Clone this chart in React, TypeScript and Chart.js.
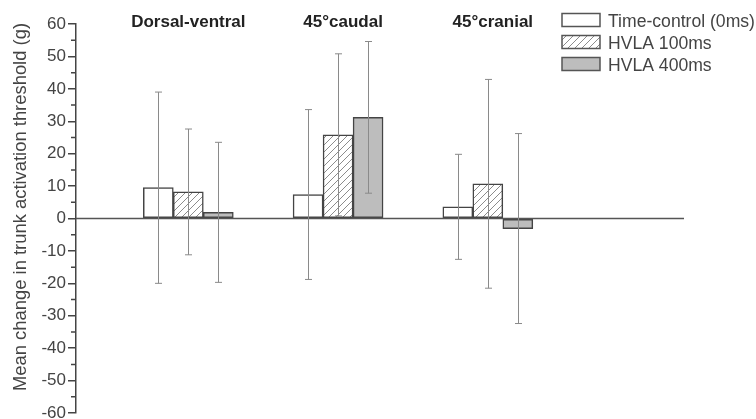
import React, { useEffect, useRef } from "react";
import { Chart, registerables } from "chart.js";

Chart.register(...registerables);

const categories = ["Dorsal-ventral", "45°caudal", "45°cranial"];
const groupPositions = [0.75, 1.75, 2.75];
const seriesLabels = ["Time-control (0ms)", "HVLA 100ms", "HVLA 400ms"];
const timeControl = [9.5, 7.4, 3.6];
const hvla100 = [8.2, 25.8, 10.7];
const hvla400 = [1.9, 31.2, -3.1];
const timeControlErr = [29.5, 26.2, 16.2];
const hvla100Err = [19.4, 25.0, 32.2];
const hvla400Err = [21.6, 23.4, 29.3];
const yMin = -60;
const yMax = 60;
const yStep = 10;
const yMinorStep = 5;
const yTitle = "Mean change in trunk activation threshold (g)";

const FONT = "'Liberation Sans', Arial, Helvetica, sans-serif";

function makeHatch(): CanvasPattern | string {
  const size = 7;
  const c = document.createElement("canvas");
  c.width = size;
  c.height = size;
  const g = c.getContext("2d");
  if (!g) return "#ffffff";
  g.fillStyle = "#ffffff";
  g.fillRect(0, 0, size, size);
  g.strokeStyle = "#8c8c8c";
  g.lineWidth = 1;
  g.beginPath();
  g.moveTo(0, size);
  g.lineTo(size, 0);
  g.moveTo(-1, 1);
  g.lineTo(1, -1);
  g.moveTo(size - 1, size + 1);
  g.lineTo(size + 1, size - 1);
  g.stroke();
  const p = g.createPattern(c, "repeat");
  return p || "#ffffff";
}

const errorSets = [timeControlErr, hvla100Err, hvla400Err];

const decorPlugin = {
  id: "decor",
  afterDatasetsDraw(chart: any) {
    const ctx: CanvasRenderingContext2D = chart.ctx;
    const yS = chart.scales.y;
    const xS = chart.scales.x;
    const area = chart.chartArea;

    // zero line
    ctx.save();
    ctx.strokeStyle = "#555555";
    ctx.lineWidth = 1.5;
    ctx.beginPath();
    ctx.moveTo(area.left, yS.getPixelForValue(0));
    ctx.lineTo(area.right, yS.getPixelForValue(0));
    ctx.stroke();
    ctx.restore();

    // error bars
    ctx.save();
    ctx.strokeStyle = "#8a8a8a";
    ctx.lineWidth = 1;
    chart.data.datasets.forEach((ds: any, di: number) => {
      const meta = chart.getDatasetMeta(di);
      meta.data.forEach((el: any, i: number) => {
        const v = ds.data[i].y;
        const e = errorSets[di][i];
        const x = Math.round(el.x) + 0.5;
        const yHi = yS.getPixelForValue(v + e);
        const yLo = yS.getPixelForValue(v - e);
        ctx.beginPath();
        ctx.moveTo(x, yHi);
        ctx.lineTo(x, yLo);
        ctx.moveTo(x - 3.5, yHi);
        ctx.lineTo(x + 3.5, yHi);
        ctx.moveTo(x - 3.5, yLo);
        ctx.lineTo(x + 3.5, yLo);
        ctx.stroke();
      });
    });
    ctx.restore();

    // minor ticks
    ctx.save();
    ctx.strokeStyle = "#444444";
    ctx.lineWidth = 1.5;
    ctx.beginPath();
    for (let v = yMin + yMinorStep; v < yMax; v += yStep) {
      const y = yS.getPixelForValue(v);
      ctx.moveTo(area.left - 5, y);
      ctx.lineTo(area.left, y);
    }
    ctx.stroke();
    ctx.restore();

    // group titles
    ctx.save();
    ctx.fillStyle = "#222222";
    ctx.font = `bold 17px ${FONT}`;
    ctx.textAlign = "center";
    ctx.textBaseline = "alphabetic";
    categories.forEach((c, i) => {
      ctx.fillText(c, xS.getPixelForValue(groupPositions[i]) + (i === 0 ? 0 : 5), 27);
    });
    ctx.restore();

    // legend
    ctx.save();
    chart.data.datasets.forEach((ds: any, di: number) => {
      const base = 27 + di * 22;
      const bx = 562;
      const by = base - 13.5;
      ctx.fillStyle = ds.backgroundColor;
      ctx.fillRect(bx, by, 38, 13);
      ctx.strokeStyle = "#555555";
      ctx.lineWidth = 1.5;
      ctx.strokeRect(bx, by, 38, 13);
      ctx.fillStyle = "#444444";
      ctx.font = `17.6px ${FONT}`;
      ctx.textAlign = "left";
      ctx.textBaseline = "alphabetic";
      ctx.fillText(ds.label, 608, base);
    });
    ctx.restore();

    // y title
    ctx.save();
    ctx.translate(26, 207);
    ctx.rotate(-Math.PI / 2);
    ctx.fillStyle = "#444444";
    ctx.font = `18.4px ${FONT}`;
    ctx.textAlign = "center";
    ctx.textBaseline = "alphabetic";
    ctx.fillText(yTitle, 0, 0);
    ctx.restore();
  },
};

export default function App() {
  const ref = useRef<HTMLCanvasElement | null>(null);
  useEffect(() => {
    if (!ref.current) return;
    const hatch = makeHatch();
    const fills: any[] = ["#ffffff", hatch, "#bdbdbd"];
    const values = [timeControl, hvla100, hvla400];
    const chart = new Chart(ref.current, {
      type: "bar",
      data: {
        datasets: values.map((vals, di) => ({
          label: seriesLabels[di],
          data: groupPositions.map((x, i) => ({ x, y: vals[i] })),
          backgroundColor: fills[di],
          borderColor: "#444444",
          borderWidth: 1.5,
          borderSkipped: false,
          barThickness: 30,
        })),
      },
      options: {
        animation: false,
        responsive: true,
        maintainAspectRatio: false,
        layout: { padding: { left: 0, top: 24, right: 72, bottom: 6 } },
        plugins: { legend: { display: false }, tooltip: { enabled: false } },
        scales: {
          x: { type: "linear", min: 0, max: 4.06, offset: false, display: false },
          y: {
            min: yMin,
            max: yMax,
            ticks: {
              stepSize: yStep,
              color: "#444444",
              font: { size: 17, family: FONT },
              padding: 2,
            },
            grid: {
              drawOnChartArea: false,
              drawTicks: true,
              tickLength: 8,
              color: "#444444",
              lineWidth: 1.5,
            },
            border: { color: "#444444", width: 1.5 },
            afterFit(s: any) {
              s.width = 76;
              s.paddingTop = 0;
              s.paddingBottom = 0;
            },
          },
        },
      } as any,
      plugins: [decorPlugin],
    });
    return () => chart.destroy();
  }, []);
  return (
    <div style={{ position: "fixed", left: 0, top: 0, width: 756, height: 419, background: "#fff" }}>
      <canvas ref={ref} />
    </div>
  );
}
